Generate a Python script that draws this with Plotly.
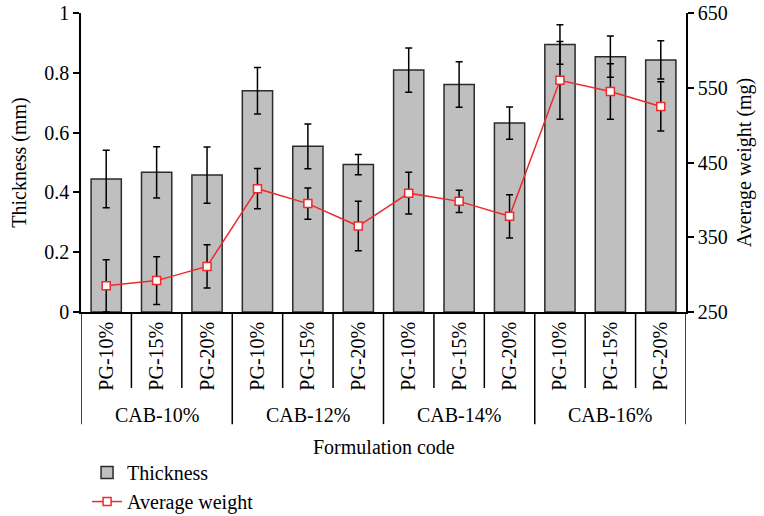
import plotly.graph_objects as go

groups = ["CAB-10%", "CAB-12%", "CAB-14%", "CAB-16%"]
pg_levels = ["PG-10%", "PG-15%", "PG-20%"]
pg_labels = pg_levels * 4

thickness = [0.445, 0.467, 0.458, 0.740, 0.554, 0.493, 0.809, 0.761, 0.632, 0.895, 0.854, 0.843]
thickness_err = [0.096, 0.086, 0.094, 0.078, 0.075, 0.034, 0.074, 0.076, 0.054, 0.066, 0.069, 0.064]

weight = [285, 292, 311, 415, 395, 365, 409, 398, 378, 560, 545, 525]
weight_err = [35, 32, 29, 27, 21, 33, 28, 15, 29, 52, 37, 33]

x_idx = list(range(len(pg_labels)))
FONT = "Liberation Serif"
FS = 20

fig = go.Figure()
fig.add_trace(go.Bar(
    x=x_idx, y=thickness, name="Thickness",
    marker=dict(color="#bfbfbf", line=dict(color="#2b2b2b", width=1.5)),
    width=0.6,
    error_y=dict(type="data", array=thickness_err, color="black", thickness=1.5, width=3.5),
))
fig.add_trace(go.Scatter(
    x=x_idx, y=weight, name="Average weight", yaxis="y2",
    mode="lines+markers",
    line=dict(color="#ee2a2a", width=1.5),
    marker=dict(symbol="square", size=8, color="white", line=dict(color="#ee2a2a", width=1.5)),
    error_y=dict(type="data", array=weight_err, color="black", thickness=1.5, width=3.5),
))

shapes = []
n = len(pg_labels)
for i in range(n + 1):
    long = (i % 3 == 0)
    shapes.append(dict(type="line", xref="x", yref="paper",
                       x0=i - 0.5, x1=i - 0.5, y0=0, y1=-0.375 if long else -0.254,
                       line=dict(color="black", width=1.5)))

annotations = []
for g, name in enumerate(groups):
    annotations.append(dict(x=g * 3 + 1, y=-0.344, xref="x", yref="paper",
                            text=name, showarrow=False, yanchor="middle",
                            font=dict(family=FONT, size=FS, color="black")))
annotations.append(dict(x=0.5, y=-0.452, xref="paper", yref="paper",
                        text="Formulation code", showarrow=False, yanchor="middle",
                        font=dict(family=FONT, size=FS, color="black")))

fig.update_layout(
    width=764, height=516,
    margin=dict(l=81, r=78, t=13, b=204),
    plot_bgcolor="white", paper_bgcolor="white",
    font=dict(family=FONT, size=FS, color="black"),
    showlegend=True,
    legend=dict(x=0.01, y=0.122, xref="paper", yref="container", xanchor="left", yanchor="top",
                bgcolor="rgba(0,0,0,0)", font=dict(family=FONT, size=FS),
                tracegroupgap=0),
    xaxis=dict(range=[-0.5, n - 0.5], tickvals=x_idx, ticktext=pg_labels,
               tickangle=-90, ticks="", showgrid=False, zeroline=False, automargin=False,
               showline=True, linecolor="black", linewidth=1.5,
               tickfont=dict(family=FONT, size=FS)),
    yaxis=dict(range=[0, 1], tickvals=[0, 0.2, 0.4, 0.6, 0.8, 1], automargin=False,
               ticks="outside", ticklen=6, tickwidth=1.5, tickcolor="black",
               showgrid=False, zeroline=False, showline=True, linecolor="black", linewidth=1.5,
               title=dict(text="Thickness (mm)", standoff=12, font=dict(family=FONT, size=FS))),
    yaxis2=dict(range=[250, 650], tickvals=[250, 350, 450, 550, 650], overlaying="y", side="right",
                automargin=False,
                ticks="outside", ticklen=6, tickwidth=1.5, tickcolor="black",
                showgrid=False, zeroline=False, showline=True, linecolor="black", linewidth=1.5,
                title=dict(text="Average weight (mg)", standoff=10, font=dict(family=FONT, size=FS))),
    shapes=shapes, annotations=annotations,
)

fig.write_html("out.html")
